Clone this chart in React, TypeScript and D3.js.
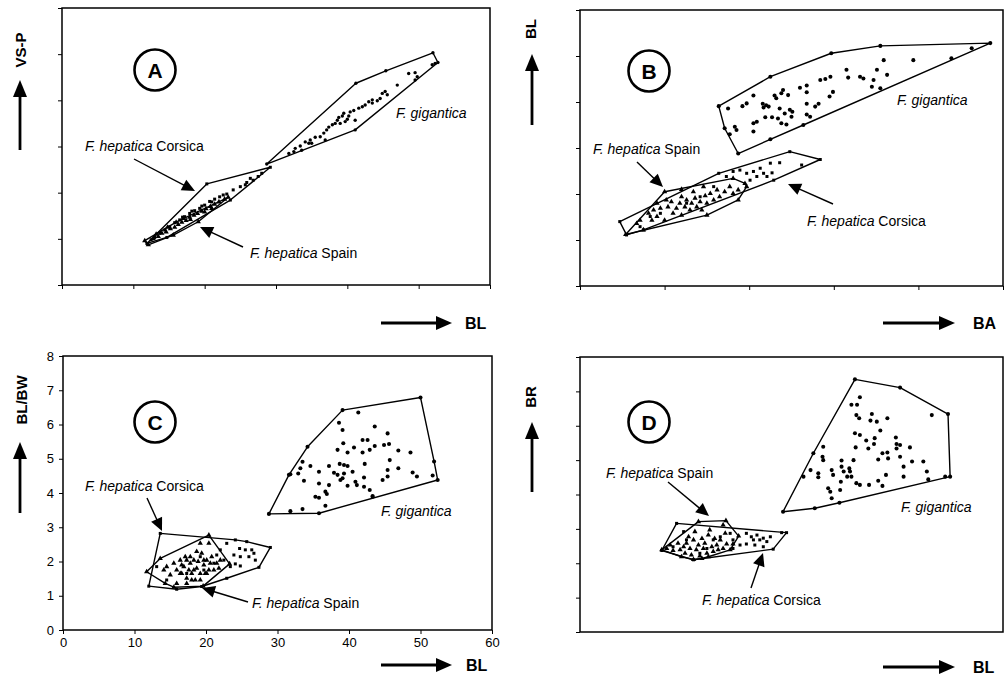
import React, { useRef, useEffect } from 'react';
import * as d3 from 'd3';

type Pt = [number, number];

const FONT = '"Liberation Sans", Arial, Helvetica, sans-serif';

// tick values (only panel C shows labels)
const blTicks = [0, 10, 20, 30, 40, 50, 60];
const vspTicks = [0, 1, 2, 3, 4, 5, 6];
const baTicks = [0, 1, 2, 3, 4, 5];
const ratioTicks = [0, 1, 2, 3, 4, 5, 6, 7, 8];
const brTicks = [0, 1, 2, 3, 4, 5, 6, 7, 8];

// ---- Panel A : BL (x) vs VS-P (y) ----
const aGigantica: Pt[] = [
  [28.7, 2.62], [41.2, 4.37], [45.4, 4.64], [52.0, 5.03], [52.7, 4.82], [41.1, 3.36],
  [31.8, 2.85], [32.7, 2.96], [33.4, 3.01], [34.1, 3.10], [34.8, 3.14], [35.5, 3.20],
  [35.0, 3.07], [36.2, 3.21], [36.7, 3.29], [37.1, 3.36], [37.4, 3.42], [37.9, 3.47],
  [38.3, 3.50], [38.6, 3.57], [38.8, 3.63], [39.3, 3.66], [39.5, 3.72], [39.7, 3.54],
  [40.0, 3.59], [40.4, 3.75], [40.9, 3.78], [41.1, 3.57], [41.6, 3.83], [42.1, 3.86],
  [42.5, 3.90], [43.0, 3.97], [43.5, 4.01], [44.2, 3.99], [44.6, 4.04], [44.9, 4.15],
  [45.3, 4.19], [45.6, 4.12], [47.0, 4.33], [48.6, 4.58], [49.5, 4.60], [49.8, 4.51],
  [49.5, 4.44], [51.9, 4.77], [52.3, 4.80], [32.5, 2.89], [33.6, 2.92], [34.6, 3.07],
  [36.9, 3.14], [39.0, 3.50], [40.2, 3.66], [43.5, 3.94],
];
const aCorsica: Pt[] = [
  [11.9, 0.90], [20.3, 2.19], [29.2, 2.55], [23.6, 1.84], [14.7, 1.03],
  [26.8, 2.27], [25.9, 2.22], [27.5, 2.35], [25.0, 2.13], [24.0, 2.06], [23.1, 1.97],
  [22.1, 1.91], [21.4, 1.86], [20.7, 1.81], [20.0, 1.73], [19.3, 1.66], [18.6, 1.61],
  [17.9, 1.55], [17.2, 1.48], [16.5, 1.41], [15.8, 1.35], [15.1, 1.26], [14.4, 1.19],
  [13.7, 1.12], [13.0, 1.03], [26.4, 2.31], [25.7, 2.17], [28.0, 2.42], [22.6, 1.95],
  [21.0, 1.80], [19.6, 1.71], [18.2, 1.60], [16.9, 1.47], [12.5, 0.98],
];
const aSpain: Pt[] = [
  [11.6, 0.96], [12.1, 0.87], [12.8, 1.00], [13.5, 1.05], [14.0, 1.12], [14.6, 1.15],
  [15.2, 1.22], [15.8, 1.25], [16.3, 1.31], [16.8, 1.36], [17.4, 1.40], [17.9, 1.47],
  [18.5, 1.51], [19.0, 1.55], [19.6, 1.60], [20.2, 1.65], [20.8, 1.70], [21.4, 1.75],
  [22.0, 1.80], [22.8, 1.86], [23.3, 1.90], [19.1, 1.37], [15.6, 1.08], [13.2, 1.10],
  [16.0, 1.36], [18.0, 1.42], [20.0, 1.58], [21.0, 1.66], [17.0, 1.44], [14.8, 1.25],
];

// ---- Panel B : BA (x) vs BL (y) ----
const bGigantica: Pt[] = [
  [1.64, 39.1], [1.87, 28.8], [4.85, 52.8], [3.55, 52.2], [2.97, 50.6], [2.25, 45.5],
  [4.39, 49.5], [3.55, 43.0], [2.25, 31.9],
  [1.75, 38.6], [1.92, 39.1], [1.97, 39.7], [2.05, 41.4], [2.16, 39.6], [2.20, 39.3],
  [2.23, 39.0], [2.17, 38.8], [2.30, 41.4], [2.32, 40.8], [2.38, 41.9], [2.40, 42.6],
  [2.46, 41.5], [2.36, 38.6], [2.42, 37.5], [2.48, 38.3], [2.51, 37.9], [2.50, 36.8],
  [2.27, 36.7], [2.19, 36.7], [2.09, 35.7], [2.05, 35.4], [2.05, 33.6], [1.83, 34.6],
  [1.85, 33.9], [1.77, 33.0], [2.38, 35.4], [2.44, 35.1], [2.60, 43.1], [2.68, 43.6],
  [2.68, 42.1], [2.68, 39.6], [2.68, 37.3], [2.72, 36.8], [2.78, 39.0], [2.82, 39.6],
  [2.84, 44.8], [2.90, 45.0], [2.96, 45.5], [2.99, 42.2], [2.95, 41.2], [3.15, 47.0],
  [3.17, 45.3], [3.31, 45.5], [3.35, 45.1], [3.47, 44.8], [3.45, 43.3], [3.51, 47.0],
  [3.59, 49.1], [3.63, 45.9], [3.94, 49.1], [4.63, 51.7], [1.71, 34.3],
  [2.34, 36.4], [2.64, 35.0],
];
const bCorsica: Pt[] = [
  [0.47, 14.0], [1.64, 24.5], [2.48, 29.2], [2.84, 27.5], [0.75, 12.2], [0.55, 11.1],
  [1.81, 24.9], [1.89, 25.2], [1.97, 24.5], [2.05, 24.9], [2.13, 25.6], [2.17, 24.5],
  [2.25, 26.7], [2.27, 24.6], [2.36, 26.8], [2.62, 26.3], [1.73, 23.8], [2.01, 23.0],
  [2.09, 23.8], [2.21, 23.8], [1.58, 21.6], [1.42, 19.4], [1.26, 18.0], [0.95, 15.8],
  [0.83, 15.1], [0.71, 12.9], [2.29, 23.0],
];
const bSpain: Pt[] = [
  [0.54, 11.2], [1.00, 20.5], [1.20, 21.0], [1.81, 23.4], [1.97, 21.6], [1.87, 18.7],
  [1.50, 15.4], [0.75, 12.2],
  [0.81, 15.8], [0.87, 16.5], [0.91, 15.1], [0.95, 16.9], [1.00, 14.3], [1.04, 17.2],
  [1.08, 18.3], [1.10, 15.8], [1.14, 16.9], [1.18, 18.0], [1.20, 15.4], [1.24, 17.2],
  [1.26, 18.7], [1.30, 16.5], [1.32, 18.0], [1.36, 19.1], [1.38, 17.2], [1.42, 18.3],
  [1.44, 16.5], [1.48, 19.6], [1.50, 18.0], [1.54, 20.1], [1.58, 18.7], [1.62, 20.9],
  [1.65, 19.4], [1.71, 20.5], [1.77, 21.6], [1.81, 20.1], [1.87, 20.9], [1.95, 22.3],
  [1.02, 18.7], [0.85, 14.3], [0.67, 13.6], [0.71, 14.3], [1.20, 19.4], [1.34, 20.5],
  [1.46, 21.6], [0.91, 18.0],
];

// ---- Panel C : BL (x) vs BL/BW (y) ----
const cGigantica: Pt[] = [
  [28.8, 3.39], [35.8, 3.41], [43.3, 3.91], [52.4, 4.38], [51.9, 4.92], [50.0, 6.79],
  [39.1, 6.42], [34.2, 5.35], [31.6, 4.53],
  [41.3, 6.35], [38.6, 6.05], [39.1, 5.84], [45.4, 5.74], [43.6, 5.94], [39.2, 5.45],
  [40.7, 5.33], [41.9, 5.55], [42.6, 5.55], [38.4, 5.26], [39.8, 5.18], [41.9, 5.18],
  [42.9, 5.26], [43.6, 5.37], [44.9, 5.40], [45.6, 5.43], [46.9, 5.24], [48.6, 5.18],
  [45.7, 4.96], [33.5, 4.91], [34.6, 4.79], [33.2, 4.72], [32.9, 4.57], [31.8, 4.55],
  [35.8, 4.62], [35.8, 4.28], [33.7, 4.36], [37.2, 4.79], [38.7, 4.85], [39.3, 4.82],
  [39.8, 4.79], [37.9, 4.59], [38.4, 4.53], [39.3, 4.57], [40.5, 4.62], [42.2, 4.85],
  [42.1, 4.45], [38.8, 4.38], [39.1, 4.43], [39.8, 4.21], [40.9, 4.33], [41.1, 4.23],
  [42.1, 4.18], [42.9, 4.09], [45.4, 4.67], [45.4, 4.48], [44.7, 4.38], [46.9, 4.72],
  [48.9, 4.60], [49.5, 4.48], [51.7, 4.51], [37.2, 4.23], [36.7, 4.04], [36.9, 3.97],
  [35.3, 3.89], [35.8, 3.86], [36.7, 3.63], [43.3, 3.89], [31.8, 3.47], [33.5, 3.53],
];
const cCorsica: Pt[] = [
  [13.6, 2.82], [29.0, 2.41], [27.4, 1.83], [22.9, 1.51], [19.4, 1.27], [15.9, 1.19],
  [12.0, 1.28],
  [24.1, 2.63], [25.7, 2.58], [24.7, 2.38], [25.5, 2.34], [26.4, 2.34], [26.7, 2.24],
  [23.9, 2.19], [24.8, 2.14], [26.0, 2.14], [26.9, 2.04], [24.1, 1.93], [24.8, 1.87],
  [23.4, 1.85], [22.0, 2.34], [21.5, 2.19], [22.5, 2.04], [21.1, 1.95], [22.9, 2.53],
  [19.7, 1.75], [17.3, 1.65], [14.5, 1.46], [13.1, 1.85], [19.2, 2.14],
];
const cSpain: Pt[] = [
  [11.7, 1.70], [20.4, 2.77], [23.3, 1.93], [19.6, 1.28], [15.5, 1.25],
  [14.5, 1.85], [15.5, 1.95], [15.9, 1.75], [16.4, 2.04], [16.6, 1.65], [16.9, 1.85],
  [17.1, 2.14], [17.3, 1.51], [17.6, 1.75], [17.8, 1.95], [18.0, 1.65], [18.3, 2.04],
  [18.5, 1.46], [18.7, 1.80], [18.9, 2.00], [19.2, 1.65], [19.4, 2.24], [19.7, 1.90],
  [19.9, 1.65], [20.1, 2.04], [20.4, 1.75], [20.6, 1.95], [20.8, 2.14], [21.1, 1.75],
  [21.5, 1.95], [21.8, 1.80], [22.0, 2.04], [19.2, 2.53], [18.7, 2.29], [20.4, 2.53],
  [13.6, 2.09], [14.1, 1.75], [15.0, 1.61], [14.3, 1.36], [15.9, 1.36], [17.3, 1.36],
  [19.2, 1.46], [18.0, 1.46], [16.6, 1.90], [17.3, 2.04], [16.4, 1.65], [20.1, 1.65],
  [18.3, 1.75], [19.7, 2.04], [17.8, 2.14],
];

// ---- Panel D : BL (x) vs BR (y) ----
const dGigantica: Pt[] = [
  [28.8, 3.50], [31.7, 4.52], [33.1, 5.20], [39.0, 7.35], [45.4, 7.11], [52.2, 6.34],
  [52.5, 4.52], [36.8, 3.76], [33.3, 3.60],
  [38.5, 6.61], [39.3, 6.61], [39.7, 6.83], [39.2, 6.31], [39.6, 6.22], [41.4, 6.34],
  [41.2, 6.15], [42.1, 6.12], [43.6, 6.22], [42.6, 5.86], [41.8, 5.64], [40.6, 5.57],
  [40.9, 5.34], [41.7, 5.47], [39.0, 5.78], [39.7, 5.73], [39.1, 5.37], [38.8, 5.00],
  [38.2, 4.76], [37.9, 4.52], [37.1, 4.99], [37.1, 4.81], [37.4, 4.67], [38.3, 4.67],
  [38.5, 4.52], [39.2, 4.33], [39.7, 4.28], [41.0, 4.28], [42.3, 4.40], [42.9, 4.25],
  [43.4, 4.57], [42.3, 5.02], [42.9, 5.20], [43.6, 5.22], [44.8, 5.66], [44.9, 5.47],
  [45.4, 5.44], [44.9, 5.34], [46.8, 5.37], [45.4, 5.10], [45.9, 4.81], [45.9, 4.52],
  [47.1, 4.96], [48.7, 4.96], [49.2, 4.67], [49.4, 4.44], [51.8, 4.52], [49.9, 6.31],
  [34.5, 5.39], [34.4, 5.10], [34.5, 5.00], [32.7, 4.71], [33.8, 4.62], [33.8, 4.50],
  [35.7, 4.71], [35.9, 4.57], [35.2, 4.18], [35.5, 4.08], [35.7, 3.89], [36.9, 4.13],
  [37.0, 4.37], [43.7, 5.05],
];
const dCorsica: Pt[] = [
  [11.6, 2.37], [13.7, 3.16], [29.3, 2.89], [27.4, 2.41], [16.1, 2.10],
  [23.6, 2.87], [24.3, 2.77], [25.1, 2.82], [24.6, 2.68], [25.5, 2.68], [26.0, 2.73],
  [26.5, 2.63], [24.8, 2.53], [23.6, 2.56], [27.0, 2.77], [22.7, 2.53], [21.7, 2.68],
  [21.7, 2.43], [21.3, 2.87], [19.9, 2.77], [18.9, 2.68], [18.0, 2.43], [15.1, 2.68],
  [13.2, 2.48], [17.0, 2.29], [14.7, 2.92], [28.6, 2.89], [26.0, 2.48],
];
const dSpain: Pt[] = [
  [11.6, 2.39], [16.8, 3.21], [20.7, 3.24], [22.5, 2.79], [16.1, 2.11],
  [12.3, 2.43], [12.8, 2.53], [13.2, 2.37], [13.9, 2.58], [14.2, 2.39], [14.7, 2.48],
  [14.9, 2.29], [15.1, 2.58], [15.4, 2.77], [15.6, 2.43], [15.8, 2.24], [16.1, 2.68],
  [16.3, 2.92], [16.5, 2.39], [16.8, 2.53], [17.0, 2.21], [17.3, 2.72], [17.5, 2.43],
  [17.7, 2.58], [18.0, 2.29], [18.2, 2.82], [18.4, 2.97], [18.7, 2.48], [18.9, 2.34],
  [19.1, 2.72], [19.4, 2.53], [19.6, 2.39], [19.9, 2.68], [20.3, 2.43], [20.6, 2.87],
  [20.8, 2.56], [21.3, 2.39], [21.7, 2.56], [20.3, 3.11], [14.4, 2.19], [17.3, 2.14],
  [18.2, 2.19],
];

const gigSym = { type: d3.symbolCircle, size: 13 };
const corSym = { type: d3.symbolSquare, size: 9 };
const spaSym = { type: d3.symbolTriangle, size: 12 };

const panels = [
  {
    letter: 'A', box: [62, 8, 490, 285], xDomain: [0, 60], yDomain: [0, 6],
    xTicks: blTicks, yTicks: vspTicks, labels: false,
    letterPos: [155, 70],
    yLabel: 'VS-P', yLabelPos: [21, 50], yArrow: [20, 150, 20, 80],
    xLabel: 'BL', xLabelPos: [465, 323], xArrow: [381, 323, 452, 323],
    groups: [
      { pts: aGigantica, sym: { ...gigSym, size: 9 } },
      { pts: aCorsica, sym: corSym },
      { pts: aSpain, sym: spaSym },
    ],
    notes: [
      { it: 'F. hepatica', rest: ' Corsica', x: 85, y: 146, arrow: [134, 159, 195, 191] },
      { it: 'F. hepatica', rest: ' Spain', x: 250, y: 253, arrow: [243, 247, 200, 227] },
      { it: 'F. gigantica', rest: '', x: 396, y: 113 },
    ],
  },
  {
    letter: 'B', box: [580, 10, 1003, 286], xDomain: [0, 5], yDomain: [0, 60],
    xTicks: baTicks, yTicks: blTicks, labels: false,
    letterPos: [649, 71],
    yLabel: 'BL', yLabelPos: [531, 29], yArrow: [532, 125, 532, 54],
    xLabel: 'BA', xLabelPos: [973, 323], xArrow: [883, 323, 955, 323],
    groups: [
      { pts: bGigantica, sym: gigSym },
      { pts: bCorsica, sym: corSym },
      { pts: bSpain, sym: spaSym },
    ],
    notes: [
      { it: 'F. hepatica', rest: ' Spain', x: 593, y: 149, arrow: [637, 162, 663, 187] },
      { it: 'F. hepatica', rest: ' Corsica', x: 807, y: 221, arrow: [833, 204, 788, 184] },
      { it: 'F. gigantica', rest: '', x: 897, y: 100 },
    ],
  },
  {
    letter: 'C', box: [63, 356, 492, 630], xDomain: [0, 60], yDomain: [0, 8],
    xTicks: blTicks, yTicks: ratioTicks, labels: true,
    letterPos: [155, 422],
    yLabel: 'BL/BW', yLabelPos: [22, 400], yArrow: [20, 513, 20, 442],
    xLabel: 'BL', xLabelPos: [466, 665], xArrow: [381, 665, 452, 665],
    groups: [
      { pts: cGigantica, sym: gigSym },
      { pts: cCorsica, sym: corSym },
      { pts: cSpain, sym: spaSym },
    ],
    notes: [
      { it: 'F. hepatica', rest: ' Corsica', x: 85, y: 486, arrow: [147, 498, 162, 531] },
      { it: 'F. hepatica', rest: ' Spain', x: 252, y: 603, arrow: [248, 602, 202, 588] },
      { it: 'F. gigantica', rest: '', x: 381, y: 511 },
    ],
  },
  {
    letter: 'D', box: [580, 357, 1003, 632], xDomain: [0, 60], yDomain: [0, 8],
    xTicks: [] as number[], yTicks: brTicks, labels: false,
    letterPos: [649, 422],
    yLabel: 'BR', yLabelPos: [531, 397], yArrow: [532, 492, 532, 422],
    xLabel: 'BL', xLabelPos: [973, 667], xArrow: [883, 667, 955, 667],
    groups: [
      { pts: dGigantica, sym: gigSym },
      { pts: dCorsica, sym: corSym },
      { pts: dSpain, sym: spaSym },
    ],
    notes: [
      { it: 'F. hepatica', rest: ' Spain', x: 606, y: 473, arrow: [668, 482, 709, 516] },
      { it: 'F. hepatica', rest: ' Corsica', x: 702, y: 600, arrow: [751, 588, 763, 553] },
      { it: 'F. gigantica', rest: '', x: 901, y: 507 },
    ],
  },
];

// line with a filled triangular head at (x2, y2)
function arrow(g: any, x1: number, y1: number, x2: number, y2: number, len: number, hw: number, sw: number) {
  const dx = x2 - x1, dy = y2 - y1;
  const L = Math.hypot(dx, dy);
  const ux = dx / L, uy = dy / L;
  const bx = x2 - ux * len, by = y2 - uy * len;
  g.append('line')
    .attr('x1', x1).attr('y1', y1).attr('x2', bx + ux).attr('y2', by + uy)
    .attr('stroke', '#000').attr('stroke-width', sw);
  g.append('path')
    .attr('d', `M${x2},${y2}L${bx - uy * hw},${by + ux * hw}L${bx + uy * hw},${by - ux * hw}Z`)
    .attr('fill', '#000');
}

function drawPanel(svg: any, p: any) {
  const [x0, y0, x1, y1] = p.box;
  const x = d3.scaleLinear().domain(p.xDomain).range([x0, x1]);
  const y = d3.scaleLinear().domain(p.yDomain).range([y1, y0]);
  const g = svg.append('g');

  const fmt = (d: any) => (p.labels ? String(d) : '');

  // ticks
  const yAxis = g.append('g')
    .attr('transform', `translate(${x0},0)`)
    .call(d3.axisLeft(y).tickValues(p.yTicks).tickSize(4).tickSizeOuter(0).tickPadding(5).tickFormat(fmt));
  yAxis.select('.domain').remove();
  yAxis.selectAll('text').attr('font-size', 13).attr('font-family', FONT).attr('fill', '#000');

  if (p.xTicks.length) {
    const xAxis = g.append('g')
      .attr('transform', `translate(0,${y1})`)
      .call(d3.axisBottom(x).tickValues(p.xTicks).tickSize(4).tickSizeOuter(0).tickPadding(4).tickFormat(fmt));
    xAxis.select('.domain').remove();
    xAxis.selectAll('text').attr('font-size', 13).attr('font-family', FONT).attr('fill', '#000');
  }

  // frame
  g.append('rect')
    .attr('x', x0).attr('y', y0)
    .attr('width', x1 - x0).attr('height', y1 - y0)
    .attr('fill', 'none').attr('stroke', '#000').attr('stroke-width', 1.5);

  // hulls and points
  p.groups.forEach((gr: any) => {
    const px: [number, number][] = gr.pts.map((d: Pt) => [x(d[0]), y(d[1])]);
    const hull = d3.polygonHull(px);
    if (hull) {
      g.append('path')
        .attr('d', 'M' + hull.map(h => h.join(',')).join('L') + 'Z')
        .attr('fill', 'none').attr('stroke', '#000').attr('stroke-width', 1.4)
        .attr('stroke-linejoin', 'round');
    }
    g.append('g').selectAll('path')
      .data(px)
      .join('path')
      .attr('transform', (d: any) => `translate(${d[0]},${d[1]})`)
      .attr('d', d3.symbol().type(gr.sym.type).size(gr.sym.size))
      .attr('fill', '#000');
  });

  // panel letter in a circle
  g.append('circle')
    .attr('cx', p.letterPos[0]).attr('cy', p.letterPos[1]).attr('r', 20.5)
    .attr('fill', 'none').attr('stroke', '#000').attr('stroke-width', 2.6);
  g.append('text')
    .attr('x', p.letterPos[0]).attr('y', p.letterPos[1] + 7.5)
    .attr('text-anchor', 'middle')
    .attr('font-family', FONT).attr('font-weight', 'bold').attr('font-size', 21)
    .text(p.letter);

  // annotations
  p.notes.forEach((n: any) => {
    const t = g.append('text')
      .attr('x', n.x).attr('y', n.y + 5)
      .attr('font-family', FONT).attr('font-size', 14)
      .style('white-space', 'pre');
    t.append('tspan').attr('font-style', 'italic').text(n.it);
    if (n.rest) t.append('tspan').text(n.rest);
    if (n.arrow) arrow(g, n.arrow[0], n.arrow[1], n.arrow[2], n.arrow[3], 13, 6, 1.4);
  });

  // axis titles with arrows
  arrow(g, p.yArrow[0], p.yArrow[1], p.yArrow[2], p.yArrow[3], 17, 7, 2.8);
  g.append('text')
    .attr('transform', `translate(${p.yLabelPos[0]},${p.yLabelPos[1]}) rotate(-90)`)
    .attr('text-anchor', 'middle').attr('dy', '0.36em')
    .attr('font-family', FONT).attr('font-weight', 'bold').attr('font-size', 15)
    .text(p.yLabel);

  arrow(g, p.xArrow[0], p.xArrow[1], p.xArrow[2], p.xArrow[3], 16, 7, 2.8);
  g.append('text')
    .attr('x', p.xLabelPos[0]).attr('y', p.xLabelPos[1]).attr('dy', '0.36em')
    .attr('font-family', FONT).attr('font-weight', 'bold').attr('font-size', 16)
    .text(p.xLabel);
}

export default function App() {
  const ref = useRef<SVGSVGElement>(null);

  useEffect(() => {
    const svg = d3.select(ref.current);
    svg.selectAll('*').remove();
    panels.forEach(p => drawPanel(svg, p));
  }, []);

  return (
    <svg
      ref={ref}
      width={1007}
      height={677}
      style={{ position: 'absolute', left: 0, top: 0, background: '#fff' }}
    />
  );
}
